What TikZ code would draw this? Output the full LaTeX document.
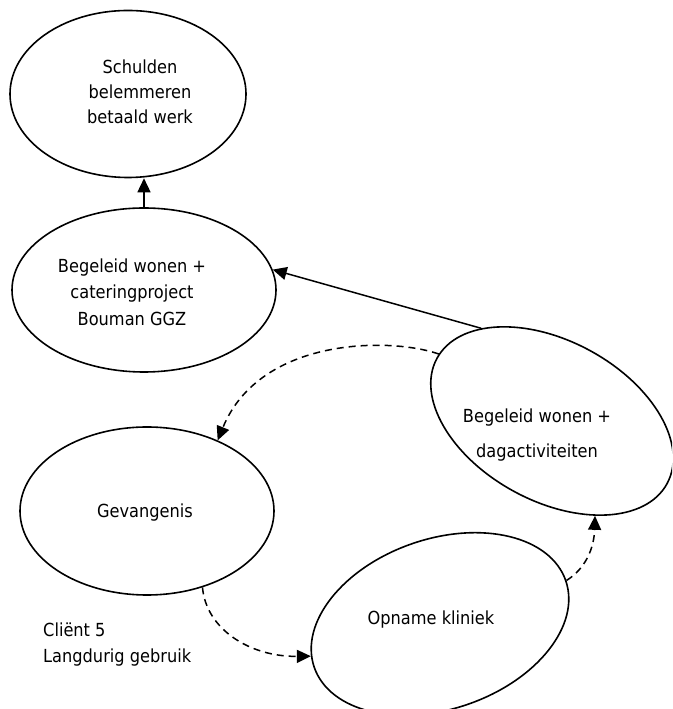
\documentclass[tikz,border=0pt]{standalone}
\usepackage{fontspec}
\setmainfont{DejaVu Sans}[FakeStretch=0.9]
\usetikzlibrary{shapes.geometric,arrows.meta}
\begin{document}
\begin{tikzpicture}[x=1pt,y=1pt,
  oval/.style={ellipse, draw, line width=1.6pt, inner sep=0pt},
  lbl/.style={font=\fontsize{18}{25}\selectfont, align=center, inner sep=0pt},
  arr/.style={line width=1.5pt, -{Triangle[length=14pt,width=13pt]}},
  dsh/.style={arr, dash pattern=on 7pt off 5pt}]
\useasboundingbox (0,0) rectangle (672,709);
\clip (0,0) rectangle (672,709);
% ellipses
\node[oval, minimum width=236pt, minimum height=167pt] (e1) at (128,615) {};
\node[oval, minimum width=264pt, minimum height=164pt] (e2) at (144,419) {};
\node[oval, minimum width=262pt, minimum height=160pt, rotate=-28.6] (e3) at (552,288) {};
\node[oval, minimum width=254pt, minimum height=168pt] (e4) at (147,198) {};
\node[oval, minimum width=266pt, minimum height=170pt, rotate=19] (e5) at (440,85) {};
% texts
\node[lbl] (t1) at (140,617) {Schulden\\belemmeren\\betaald werk};
\node[lbl, font=\fontsize{18}{26.5}\selectfont] (t2) at (132,417) {Begeleid wonen +\\cateringproject\\Bouman GGZ};
\node[lbl, font=\fontsize{18}{35}\selectfont] (t3) at (537,273.5) {Begeleid wonen +\\dagactiviteiten};
\node[lbl] (t4) at (145,196) {Gevangenis};
\node[lbl] (t5) at (431,89) {Opname kliniek};
\node[lbl, font=\fontsize{18}{26}\selectfont, align=left, anchor=west] (t6) at (43,64) {Cliënt 5\\Langdurig gebruik};
% connectors
\draw[arr] (e2.north) -- (e2.north |- e1.south);
\draw[arr] (e3.156) -- (e2.9);
\draw[dsh] (e3.178) .. controls (390,372) and (260,372) .. (e4.45);
\draw[dsh] (e4.306) .. controls (206,80) and (250,52) .. (e5.175);
\draw[dsh] (e5.east) .. controls (585,140) and (594,160) .. (e3.323);
\end{tikzpicture}
\end{document}
